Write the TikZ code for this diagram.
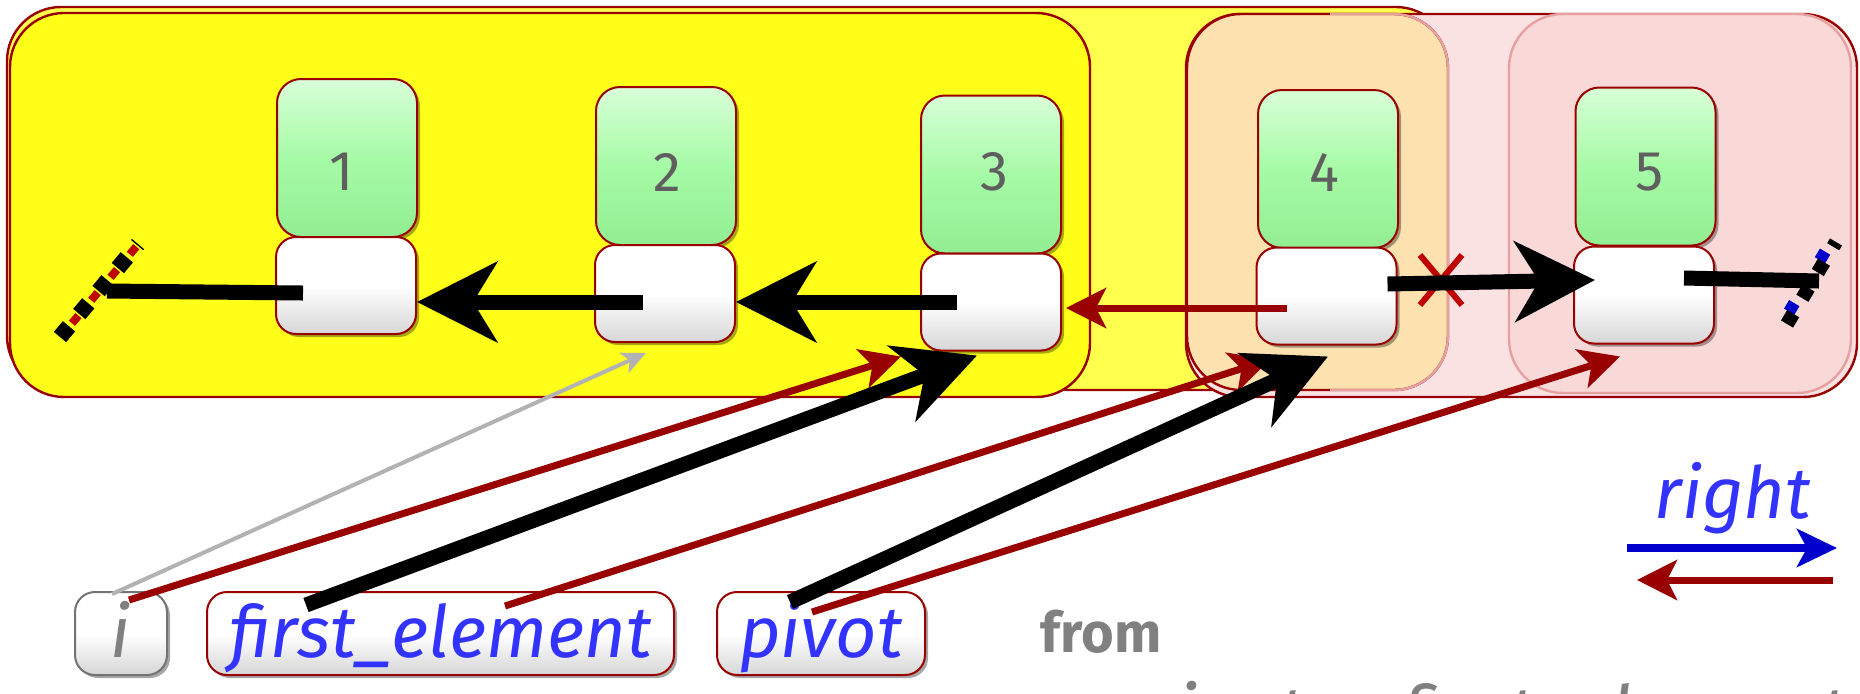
\documentclass[tikz,border=0pt]{standalone}
\usepackage{fontspec}
\setmainfont{Fira Sans}
\usetikzlibrary{arrows.meta,shadows,shapes.misc}

\definecolor{dred}{HTML}{990000}
\definecolor{lyellow}{HTML}{FFFF4D}
\definecolor{byellow}{HTML}{FFFF1A}
\definecolor{pinkA}{HTML}{FBE2E2}
\definecolor{pinkB}{HTML}{F9D8D8}
\definecolor{orangeA}{HTML}{FDE2B0}
\definecolor{pinkedge}{HTML}{E6A0A0}
\definecolor{labelblue}{HTML}{3333FF}
\definecolor{numgray}{HTML}{5F5F5F}
\definecolor{txtgray}{HTML}{808080}
\definecolor{legblue}{HTML}{0000CC}
\definecolor{xred}{HTML}{C00000}
\definecolor{ga}{HTML}{D8FFD8}
\definecolor{gb}{HTML}{A6FBA6}
\definecolor{gc}{HTML}{92EE92}

\begin{document}
\begin{tikzpicture}[x=0.5pt,y=-0.5pt,
  container/.style={line width=1.2pt, rounded corners=27pt},
  shadowed/.style={drop shadow={shadow xshift=1.5pt,shadow yshift=-1.5pt,opacity=0.35,fill=black}},
  greenbox/.style={draw=dred, line width=1pt, rounded corners=12pt, minimum width=70pt,
    minimum height=79pt, inner sep=0pt, top color=ga, bottom color=gc, middle color=gb,
    shadowed},
  numtext/.style={font=\fontsize{28}{30}\selectfont, text=numgray, inner sep=0pt},
  whitebox/.style={draw=dred, line width=1pt, rounded corners=10pt, minimum width=70pt,
    minimum height=48.5pt, inner sep=0pt, top color=white, bottom color=black!16,
    middle color=white, shadowed},
  labelbox/.style={draw=dred, line width=1pt, rounded corners=10pt, minimum height=41.5pt,
    inner sep=0pt, top color=white, bottom color=black!16, middle color=white, shadowed,
    font=\fontsize{36}{40}\selectfont\itshape, text=labelblue, text height=27pt, text depth=3.5pt},
  bigarrow/.style={draw=black, line width=7.5pt, -{Stealth[length=40pt,width=40pt,inset=12pt]}},
  plainthick/.style={draw=black, line width=7.5pt},
  redarrow/.style={draw=dred, line width=3.5pt, -{Stealth[length=20pt,width=20pt,inset=5pt]}},
  grayarrow/.style={draw=black!30, line width=2pt, -{Stealth[length=12pt,width=11pt,inset=3pt]}},
  italiclabel/.style={font=\fontsize{36}{40}\selectfont\itshape},
]
\useasboundingbox (0,0) rectangle (1860,693);
\clip (0,0) rectangle (1860,693);

% containers
\draw[container, fill=lyellow, draw=dred] (7,7) rectangle (1450,390);
\draw[container, fill=byellow, draw=dred] (10,13) rectangle (1090,397);
\draw[container, fill=pinkA, draw=dred] (1186,14) rectangle (1857,397);
\draw[container, fill=orangeA, draw=dred] (1187,14) rectangle (1448,390);
\begin{scope}
  \clip (1330,0) rectangle (1500,420);
  \draw[container, draw=pinkedge] (1187,14) rectangle (1448,390);
\end{scope}
\draw[container, fill=pinkB, draw=pinkedge] (1509,14) rectangle (1851,393);

% list cells
\node[greenbox] (g1) at (347,158) {};
\node[numtext] (d1) at (342,172) {1};
\node[whitebox] (w1) at (346,285.5) {};
\node[greenbox] (g2) at (666,166) {};
\node[numtext] (d2) at (667,172) {2};
\node[whitebox] (w2) at (665,293.5) {};
\node[greenbox] (g3) at (991,174.5) {};
\node[numtext] (d3) at (994,172) {3};
\node[whitebox] (w3) at (991,302) {};
\node[greenbox] (g4) at (1328,169) {};
\node[numtext] (d4) at (1324,172) {4};
\node[whitebox] (w4) at (1326.5,296) {};
\node[greenbox] (g5) at (1645.5,166.5) {};
\node[numtext] (d5) at (1650,172) {5};
\node[whitebox] (w5) at (1644,295) {};

% void markers
\coordinate (nilL) at (107,291);
\coordinate (vLa) at (60,337);
\coordinate (vLb) at (138,244);
\draw[xred, line width=4pt, dash pattern=on 5pt off 10pt, dash phase=-7pt] ([xshift=1.5pt,yshift=1.5pt]vLa) -- ([xshift=1.5pt,yshift=1.5pt]vLb);
\draw[black, line width=8pt, dash pattern=on 7pt off 8pt] (vLa) -- (vLb);
\coordinate (nilR) at (1819,281);
\coordinate (vRa) at (1787,324);
\coordinate (vRb) at (1836,242);
\draw[legblue, line width=6pt, dash pattern=on 5pt off 10pt, dash phase=-6pt] ([xshift=-2pt,yshift=1pt]vRa) -- ([xshift=-2pt,yshift=1pt]vRb);
\draw[black, line width=7pt, dash pattern=on 6pt off 9pt] (vRa) -- (vRb);

% top connectors
\draw[plainthick] ([xshift=-21.5pt,yshift=-3.75pt]w1.center) -- (nilL);
\draw[bigarrow] ([xshift=-11pt,yshift=-4.25pt]w2.center) -- ([yshift=-8.25pt]w1.east);
\draw[bigarrow] ([xshift=-17pt]w3.center) -- ([yshift=-4.25pt]w2.east);
\draw[redarrow] ([xshift=-19.75pt,yshift=-6pt]w4.center) -- ([xshift=2pt,yshift=-3pt]w3.east);
\node[cross out, draw=xred, line width=3pt, minimum width=18pt, minimum height=22pt, inner sep=0pt] (cx) at (1441,280) {};
\draw[bigarrow] ([xshift=-5pt,yshift=6pt]w4.east) -- ([xshift=11pt,yshift=7.5pt]w5.west);
\draw[plainthick] ([xshift=20pt,yshift=8.5pt]w5.center) -- (nilR);

% bottom variables
\node[labelbox, draw=black!55, text=txtgray, minimum width=46pt] (bi) at (121,633.5) {i};
\node[labelbox, minimum width=233.5pt] (bf) at (440.5,633.5) {first\_element};
\node[labelbox, minimum width=104pt] (bp) at (821,633.5) {pivot};

% bottom connectors
\draw[grayarrow] ([xshift=-4.5pt,yshift=-1.5pt]bi.north) -- ([xshift=-9.5pt,yshift=-5pt]w2.south);
\draw[redarrow] ([xshift=4pt,yshift=-4.5pt]bi.north) -- ([xshift=-9.5pt,yshift=-2.5pt]w3.south west);
\draw[bigarrow] ([xshift=50pt,yshift=-7pt]bf.north west) -- ([xshift=-7pt,yshift=-2pt]w3.south);
\draw[redarrow] ([xshift=32.25pt,yshift=-7.5pt]bf.north) -- ([xshift=-28.25pt,yshift=-7pt]w4.south);
\draw[bigarrow] ([xshift=-15.5pt,yshift=-5.5pt]bp.north) -- ([xshift=0.75pt,yshift=-5.5pt]w4.south);
\draw[redarrow] ([xshift=-4.5pt,yshift=-10.5pt]bp.north) -- ([xshift=-12pt,yshift=-6pt]w5.south);

% code text
\node[anchor=base, font=\fontsize{28}{32}\selectfont\bfseries, text=txtgray] (from) at (1101,652) {from};
\node[anchor=base west, font=\fontsize{38}{42}\selectfont\itshape, text=txtgray] (code) at (1125,740) {pivot := first\_element};

% legend
\node[anchor=base, italiclabel, text=labelblue] (rt) at (1733,518) {right};
\coordinate (lb1) at (1627,548);
\coordinate (lb2) at (1837,548);
\draw[legblue, line width=4pt, -{Stealth[length=20pt,width=19pt,inset=5pt]}] (lb1) -- (lb2);
\coordinate (lr1) at (1833,580);
\coordinate (lr2) at (1637,580);
\draw[redarrow] (lr1) -- (lr2);
\end{tikzpicture}
\end{document}
